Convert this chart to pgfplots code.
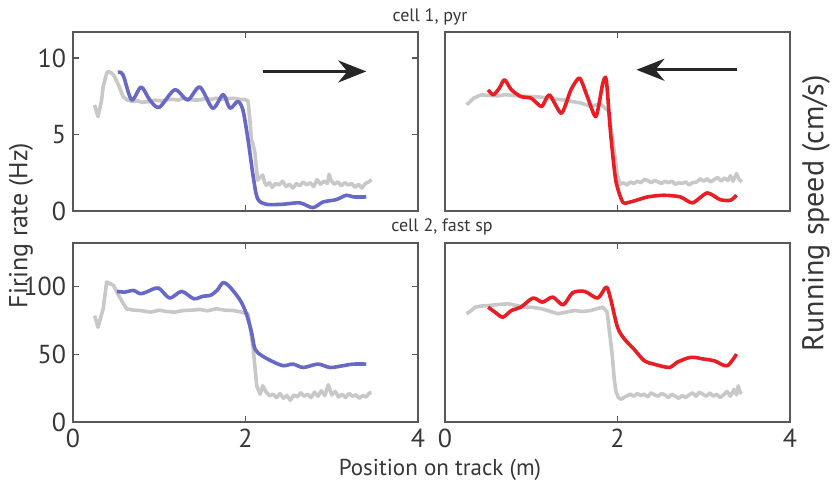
\documentclass[border=0pt]{standalone}
\usepackage{pgfplots}
\pgfplotsset{compat=1.18}
\usepgfplotslibrary{groupplots}
\usetikzlibrary{arrows.meta}
\usepackage{fontspec}
\setmainfont{PT Sans}
\definecolor{bl}{RGB}{104,104,198}
\definecolor{rd}{RGB}{232,30,36}
\definecolor{gr}{RGB}{200,200,200}
\definecolor{axg}{RGB}{88,88,88}
\definecolor{txg}{RGB}{55,55,55}
\begin{document}
\begin{tikzpicture}
\begin{groupplot}[group style={group size=2 by 2, horizontal sep=13.5pt, vertical sep=16pt},
 scale only axis, width=172.5pt, height=89.5pt, xmin=0, xmax=4, xtick={0,2,4},
 axis line style={draw=axg, line width=1pt},
 tick style={draw=axg, line width=0.6pt}, tick align=inside, major tick length=3pt,
 ticklabel style={font=\fontsize{13}{13}\selectfont, text=txg},
 /pgf/number format/assume math mode=true,
 every axis plot/.append style={line width=1.8pt, no markers, line join=round},
]
% ---------------- top left
\nextgroupplot[ymin=0, ymax=11.7, ytick={0,5,10}, xticklabels={}]
\addplot[gr] coordinates {
(0.25,6.94)(0.29,6.17)(0.33,7.2)(0.35,8.14)(0.39,9.0)(0.41,9.12)(0.45,9.0)(0.48,8.8)(0.53,8.2)(0.58,7.48)(0.63,7.25)(0.70,7.16)(0.75,7.2)(0.80,7.1)(0.89,7.16)(0.95,7.25)(1.02,7.2)(1.08,7.26)(1.15,7.3)(1.22,7.25)(1.28,7.37)(1.35,7.3)(1.41,7.25)(1.47,7.26)(1.53,7.35)(1.60,7.3)(1.66,7.37)(1.72,7.3)(1.80,7.35)(1.86,7.37)(1.93,7.3)(1.98,7.3)(2.03,7.2)(2.05,6.0)(2.07,4.64)(2.09,4.3)(2.11,3.76)(2.13,2.6)(2.14,2.01)(2.17,2.2)(2.20,2.34)(2.22,1.9)
(2.24,1.68)(2.28,1.85)(2.31,1.55)(2.35,1.8)(2.39,1.7)(2.43,1.95)(2.47,1.6)(2.51,1.75)(2.55,1.5)(2.59,1.8)(2.63,1.65)(2.67,1.9)(2.71,1.7)(2.75,1.85)(2.79,1.6)(2.83,2.05)(2.87,1.75)(2.91,1.95)(2.95,1.8)(2.97,2.4)(2.99,2.0)(3.03,1.75)(3.07,1.9)(3.11,1.65)(3.15,1.85)(3.19,1.7)(3.23,1.8)(3.27,1.55)(3.31,1.75)(3.35,1.5)(3.39,1.8)(3.43,1.9)(3.46,2.05)};
\addplot[bl, smooth, tension=0.5] coordinates {
(0.52,9.06)(0.58,8.9)(0.68,7.26)(0.79,8.1)(0.89,7.26)(1.0,6.78)(1.18,7.92)(1.33,7.26)(1.47,8.1)(1.62,6.72)(1.74,7.6)(1.82,6.72)(1.91,7.16)(1.97,6.6)(2.03,4.64)(2.09,2.23)(2.14,0.81)(2.24,0.44)(2.43,0.44)(2.63,0.53)(2.78,0.22)(2.90,0.59)(3.05,0.74)(3.17,1.03)(3.25,0.92)(3.40,0.92)};
\draw[-{Stealth[length=14pt,width=11pt]}, line width=1.6pt, black!85] (axis cs:2.2,9.12) -- (axis cs:3.4,9.12);
% ---------------- top right
\nextgroupplot[ymin=0, ymax=11.7, ytick=\empty, xticklabels={}]
\addplot[gr] coordinates {
(0.25,6.94)(0.30,7.2)(0.33,7.37)(0.38,7.5)(0.42,7.59)(0.5,7.55)(0.62,7.53)(0.7,7.6)(0.8,7.55)(0.9,7.5)(1.0,7.48)(1.1,7.45)(1.19,7.37)(1.3,7.3)(1.38,7.26)(1.48,7.15)(1.58,7.05)(1.69,6.83)(1.80,7.0)(1.90,6.5)(1.96,4.0)(2.0,2.3)(2.03,1.75)
(2.07,1.85)(2.11,1.7)(2.15,1.9)(2.19,1.8)(2.23,1.95)(2.27,1.85)(2.31,2.05)(2.35,2.0)(2.39,1.85)(2.43,2.0)(2.47,1.9)(2.51,1.8)(2.55,1.95)(2.59,1.85)(2.63,1.95)(2.67,1.75)(2.71,1.85)(2.75,1.8)(2.79,1.9)(2.83,1.7)(2.87,1.85)(2.92,1.9)(2.96,2.1)(3.00,1.95)(3.04,2.1)(3.08,1.9)(3.12,2.05)(3.16,2.2)(3.20,1.95)(3.24,2.15)(3.28,2.0)(3.31,2.3)(3.34,1.95)(3.38,2.45)(3.41,2.05)(3.44,1.9)};
\addplot[rd, smooth, tension=0.4] coordinates {
(0.50,7.92)(0.56,7.59)(0.63,8.03)(0.69,8.58)(0.77,7.92)(0.88,7.48)(1.0,7.37)(1.12,6.83)(1.21,7.59)(1.35,6.39)(1.46,7.92)(1.56,8.69)(1.65,7.48)(1.75,6.17)(1.83,8.36)(1.87,8.58)(1.92,5.08)(1.98,2.01)(2.06,0.59)(2.15,0.59)(2.35,0.92)(2.54,1.03)(2.73,0.92)(2.87,0.53)(3.04,1.18)(3.19,0.74)(3.31,0.70)(3.38,1.03)};
\draw[-{Stealth[length=14pt,width=11pt]}, line width=1.6pt, black!85] (axis cs:3.38,9.23) -- (axis cs:2.22,9.23);
% ---------------- bottom left
\nextgroupplot[ymin=0, ymax=132, ytick={0,50,100}]
\addplot[gr] coordinates {
(0.25,78.5)(0.29,69.9)(0.35,83.5)(0.39,103.2)(0.47,100.7)(0.54,92.1)(0.62,83.5)(0.70,82.5)(0.78,82.2)(0.9,81.0)(1.0,82.5)(1.08,81.5)(1.18,81.0)(1.28,82.2)(1.38,82.5)(1.47,83.0)(1.56,82.0)(1.66,83.5)(1.76,82.5)(1.86,82.2)(1.95,81.0)(2.03,79.8)(2.09,53.8)(2.13,26.7)(2.17,20.5)(2.20,26.7)(2.24,22.0)(2.28,19.3)
(2.32,20.5)(2.36,18.0)(2.40,21.0)(2.44,17.5)(2.48,19.5)(2.52,16.0)(2.56,20.0)(2.60,18.5)(2.64,21.5)(2.68,19.0)(2.72,20.5)(2.76,18.0)(2.80,22.0)(2.84,19.0)(2.88,23.0)(2.92,19.5)(2.96,27.5)(3.00,20.0)(3.04,22.5)(3.08,18.5)(3.12,20.5)(3.16,18.0)(3.20,21.0)(3.24,19.0)(3.28,20.0)(3.32,17.5)(3.36,19.5)(3.40,18.5)(3.43,21.0)(3.46,22.0)};
\addplot[bl, smooth, tension=0.5] coordinates {
(0.51,96.3)(0.60,95.8)(0.70,97.0)(0.78,94.6)(0.85,95.8)(0.99,98.8)(1.12,91.4)(1.26,96.3)(1.40,90.9)(1.51,92.8)(1.59,93.3)(1.67,97.0)(1.74,102.7)(1.82,99.5)(1.94,89.6)(2.01,79.8)(2.07,66.2)(2.11,53.8)(2.19,48.9)(2.32,44.4)(2.44,41.5)(2.55,42.7)(2.67,40.2)(2.84,42.7)(2.98,40.2)(3.13,41.5)(3.25,42.7)(3.40,42.7)};
% ---------------- bottom right
\nextgroupplot[ymin=0, ymax=132, ytick=\empty]
\addplot[gr] coordinates {
(0.25,79.8)(0.3,82)(0.35,84.7)(0.42,85.5)(0.50,85.9)(0.6,86.5)(0.73,87.2)(0.82,86)(0.92,84.7)(1.02,84.5)(1.12,83.5)(1.2,82)(1.31,79.8)(1.4,81)(1.50,82.2)(1.6,81.5)(1.69,82.2)(1.76,83.5)(1.83,84.7)(1.88,81.0)(1.91,65)(1.94,48.9)(1.96,33)(1.98,23.0)(2.01,18)(2.04,16.8)(2.1,19)(2.15,20.5)
(2.19,19.0)(2.23,21.0)(2.27,19.5)(2.31,20.5)(2.35,18.5)(2.39,21.5)(2.43,20.0)(2.47,19.0)(2.51,21.0)(2.55,20.0)(2.59,18.0)(2.63,20.5)(2.67,19.0)(2.71,17.5)(2.75,19.5)(2.79,18.0)(2.83,20.0)(2.87,21.5)(2.91,19.0)(2.95,22.0)(2.99,20.5)(3.03,19.0)(3.07,21.5)(3.11,19.0)(3.15,20.5)(3.19,18.0)(3.23,20.0)(3.27,22.5)(3.31,19.0)(3.35,24.0)(3.38,20.0)(3.40,26.7)(3.42,22.0)(3.44,21.0)};
\addplot[rd, smooth, tension=0.5] coordinates {
(0.50,84.7)(0.58,81.0)(0.67,77.3)(0.77,82.2)(0.88,84.7)(1.02,91.4)(1.13,88.4)(1.25,92.1)(1.37,86.4)(1.48,95.3)(1.62,96.3)(1.77,91.4)(1.87,99.5)(1.92,90.9)(2.0,69.9)(2.08,61.2)(2.19,53.8)(2.31,45.2)(2.42,42.7)(2.60,40.2)(2.69,44.0)(2.85,47.7)(3.0,46.4)(3.12,45.2)(3.27,41.5)(3.38,50.1)};
\end{groupplot}
\path ([shift={(-26pt,-96.75pt)}]group c1r1.north west) node[rotate=90, text=txg, font=\fontsize{13}{14}\selectfont] {Firing rate (Hz)};
\path ([shift={(371.5pt,-90.5pt)}]group c1r1.north west) node[rotate=90, text=txg, font=\fontsize{15}{16}\selectfont] {Running speed (cm/s)};
\path ([shift={(183.5pt,-219pt)}]group c1r1.north west) node[text=txg, font=\fontsize{11.5}{12}\selectfont] {Position on track (m)};
\path ([shift={(178.5pt,7.5pt)}]group c1r1.north west) node[text=txg, font=\fontsize{9}{10}\selectfont] {cell 1, pyr};
\path ([shift={(184.5pt,-97.5pt)}]group c1r1.north west) node[text=txg, font=\fontsize{9}{10}\selectfont] {cell 2, fast sp};
\pgfresetboundingbox
\path[use as bounding box] ([shift={(-36.5pt,16pt)}]group c1r1.north west) rectangle ([shift={(381pt,-227pt)}]group c1r1.north west);
\end{tikzpicture}
\end{document}
